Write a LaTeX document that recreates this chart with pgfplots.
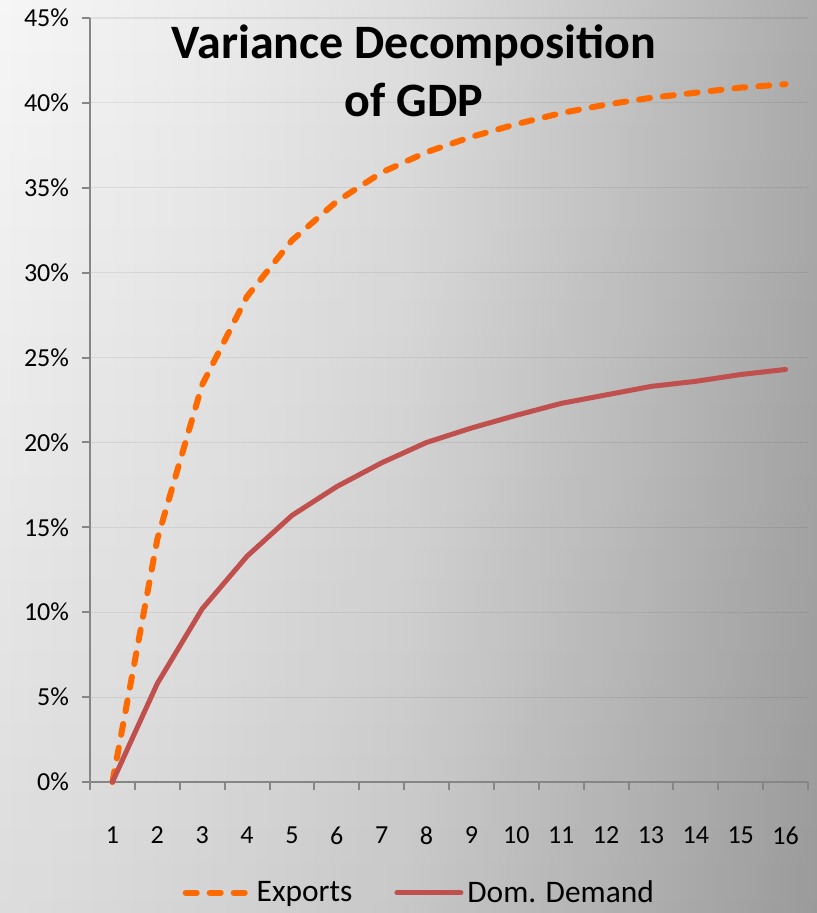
\documentclass[border=0pt]{standalone}
\usepackage{fontspec}
\setmainfont{Carlito}
\usepackage{pgfplots}
\pgfplotsset{compat=1.18}
\usetikzlibrary{fadings}
\definecolor{expc}{HTML}{FF6A00}
\definecolor{domc}{HTML}{C0504D}
\definecolor{axgray}{HTML}{868686}
\definecolor{bg0}{RGB}{246,246,246}
\definecolor{bg1}{RGB}{236,236,236}
\definecolor{bg2}{RGB}{222,222,222}
\definecolor{bg3}{RGB}{198,198,198}
\definecolor{bg4}{RGB}{172,172,172}
\pgfdeclarehorizontalshading{bgsh}{100bp}{color(0bp)=(bg0); color(25bp)=(bg0); color(37.5bp)=(bg1); color(50bp)=(bg2); color(62.5bp)=(bg3); color(75bp)=(bg4); color(100bp)=(bg4)}
\begin{document}
\begin{tikzpicture}
\shade[shading=bgsh] (0,0) rectangle (408.5bp,456.5bp);
\fill[black, fill opacity=0.1, path fading=north] (0,0) rectangle (408.5bp,456.5bp);
\useasboundingbox (0,0) rectangle (408.5bp,456.5bp);
\begin{axis}[
  width=359bp, height=382bp, scale only axis,
  at={(45bp,65.5bp)}, anchor=south west,
  xmin=0.5, xmax=16.5, ymin=0, ymax=45,
  axis x line=bottom, axis y line=left,
  axis line style={axgray, line width=1bp, -},
  /pgf/number format/assume math mode=true,
  xtick={1,...,16},
  xticklabels={1,2,3,4,5,6,7,8,9,10,11,12,13,14,15,16},
  major x tick style={draw=none},
  minor xtick={0.5,1.5,...,16.5},
  ytick={0,5,...,45},
  yticklabels={0\%,5\%,10\%,15\%,20\%,25\%,30\%,35\%,40\%,45\%},
  tick align=outside,
  tick style={axgray, line width=1bp},
  major tick length=4bp, minor tick length=4bp,
  ymajorgrids,
  grid style={black, opacity=0.07, line width=0.6bp},
  tick label style={font=\fontsize{13bp}{15bp}\selectfont, black},
  xticklabel style={yshift=-15bp},
  yticklabel style={xshift=-3bp},
  clip=false,
  legend columns=2,
  legend style={at={(0.46,-0.145)}, anchor=center, draw=none, fill=none,
    font=\fontsize{15.7bp}{18bp}\selectfont,
    /tikz/every even column/.append style={column sep=19bp}},
  legend image code/.code={\draw[#1] (0bp,0bp) -- (32bp,0bp);},
]
\addplot[expc, line width=3bp, line cap=round, dash pattern=on 5.5bp off 6.5bp] coordinates {
(1,0) (2,14.3) (3,23.4) (4,28.6) (5,31.9) (6,34.2) (7,35.9) (8,37.1) (9,38.0) (10,38.75) (11,39.4) (12,39.9) (13,40.3) (14,40.6) (15,40.9) (16,41.1)};
\addlegendentry{Exports}
\addplot[domc, line width=2.5bp, line cap=round] coordinates {
(1,0) (2,5.8) (3,10.2) (4,13.3) (5,15.7) (6,17.4) (7,18.8) (8,20.0) (9,20.85) (10,21.6) (11,22.3) (12,22.8) (13,23.3) (14,23.6) (15,24.0) (16,24.3)};
\addlegendentry{Dom. Demand}
\end{axis}
\node[align=center, font=\fontsize{24bp}{29bp}\selectfont\bfseries] at (207bp,421bp) {Variance Decomposition\\of GDP};
\end{tikzpicture}
\end{document}
